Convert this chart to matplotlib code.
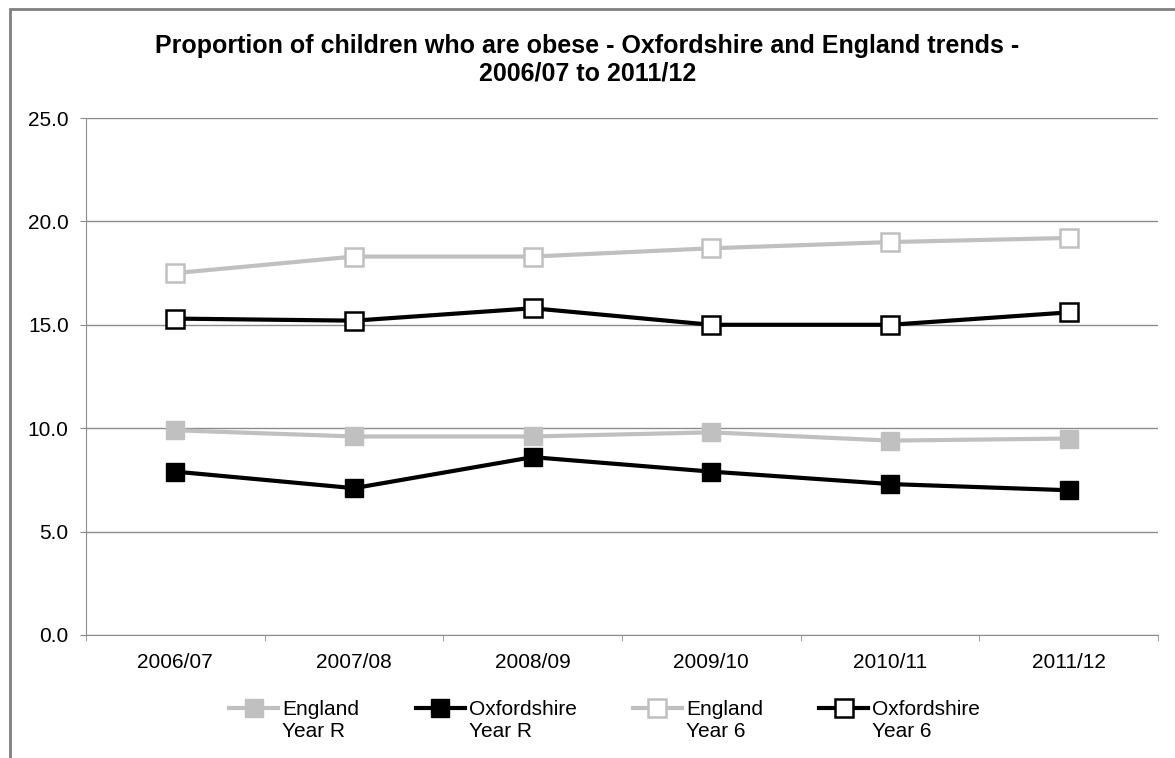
import matplotlib
matplotlib.use("Agg")
import matplotlib.pyplot as plt
from matplotlib.patches import Rectangle
from matplotlib.legend_handler import HandlerLine2D
import numpy as np

plt.rcParams['font.family'] = ['Liberation Sans', 'DejaVu Sans']

years = ['2006/07', '2007/08', '2008/09', '2009/10', '2010/11', '2011/12']
england_r = [9.9, 9.6, 9.6, 9.8, 9.4, 9.5]
oxon_r = [7.9, 7.1, 8.6, 7.9, 7.3, 7.0]
england_6 = [17.5, 18.3, 18.3, 18.7, 19.0, 19.2]
oxon_6 = [15.3, 15.2, 15.8, 15.0, 15.0, 15.6]


# legend handle lined up with the first text line, as in Excel
class TopHandler(HandlerLine2D):
    def create_artists(self, legend, orig_handle, xdescent, ydescent,
                       width, height, fontsize, trans):
        arts = super().create_artists(legend, orig_handle, xdescent, ydescent,
                                      width, height, fontsize, trans)
        for a in arts:
            a.set_ydata(np.asarray(a.get_ydata()) + 0.62 * fontsize)
        return arts


grey = '#c0c0c0'
fig = plt.figure(figsize=(11.75, 7.58), dpi=100)
ax = fig.add_axes([86/1175, 1 - 635/758, (1158 - 86)/1175, (635 - 118)/758])

# outer chart frame (cut off at right and bottom like the source)
fig.patches.append(Rectangle((10/1175, -0.05), 1.1, 1 - 9/758 + 0.05,
                             transform=fig.transFigure, fill=False,
                             edgecolor='#808080', linewidth=2))

x = np.arange(len(years))
ms = 12.5
ax.plot(x, england_r, color=grey, lw=3, marker='s', ms=ms, mfc=grey, mec=grey,
        label='England\nYear R', zorder=3)
ax.plot(x, oxon_r, color='black', lw=3, marker='s', ms=ms, mfc='black', mec='black',
        label='Oxfordshire\nYear R', zorder=3)
ax.plot(x, england_6, color=grey, lw=3, marker='s', ms=ms, mfc='white', mec=grey,
        mew=1.8, label='England\nYear 6', zorder=3)
ax.plot(x, oxon_6, color='black', lw=3, marker='s', ms=ms, mfc='white', mec='black',
        mew=1.8, label='Oxfordshire\nYear 6', zorder=3)

ax.set_ylim(0, 25)
ax.set_xlim(-0.5, len(years) - 0.5)
ax.set_yticks(np.arange(0, 26, 5))
ax.set_yticklabels(['%.1f' % v for v in np.arange(0, 26, 5)], fontsize=15)
ax.yaxis.grid(True, color='#8c8c8c', lw=1)
ax.set_axisbelow(True)

ax.set_xticks(x)
ax.set_xticklabels(years, fontsize=15)
ax.set_xticks(np.arange(-0.5, len(years)), minor=True)
ax.tick_params(axis='x', which='major', length=0, pad=13)
ax.tick_params(axis='x', which='minor', length=4.5, color='#8c8c8c')
ax.tick_params(axis='y', length=4.5, color='#8c8c8c', pad=8)

for s in ['top', 'right']:
    ax.spines[s].set_visible(False)
for s in ['left', 'bottom']:
    ax.spines[s].set_color('#8c8c8c')

fig.text(0.5, 1 - 60/758, 'Proportion of children who are obese - Oxfordshire and England trends -\n2006/07 to 2011/12',
         ha='center', va='center', fontsize=18, fontweight='bold', linespacing=1.2)

ax.legend(loc='upper center', bbox_to_anchor=(0.484, -0.09), ncol=4, frameon=False,
          fontsize=15, handlelength=2.35, handletextpad=0.2, columnspacing=2.7,
          handler_map={matplotlib.lines.Line2D: TopHandler()})

fig.savefig('out.png', dpi=100)
